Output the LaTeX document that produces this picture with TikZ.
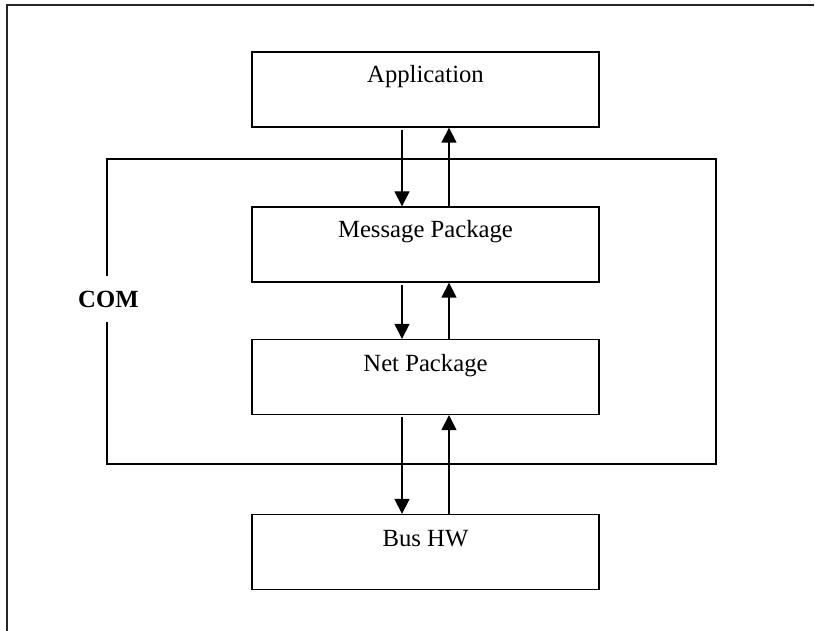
\documentclass[tikz,border=0pt]{standalone}
\usepackage{fontspec}
\setmainfont{Liberation Serif}
\usetikzlibrary{arrows.meta}
\tikzset{
  box/.style={draw=black, line width=1.3pt, minimum width=347pt, minimum height=75pt, inner sep=0pt},
  lbl/.style={anchor=base, inner sep=0pt, font=\fontsize{24.7}{30}\selectfont},
  arr/.style={line width=1.3pt, -{Triangle[length=15pt,width=15pt]}},
  frame/.style={line width=2pt, draw=black!85}
}
\begin{document}
\begin{tikzpicture}[x=1pt,y=-1pt]
\useasboundingbox (0,0) rectangle (815,631);
% outer frame (top and left edges visible)
\draw[frame] (6.8,631) -- (6.8,5.2) -- (814,5.2);
% COM box
\draw[line width=1.3pt] (107,159) rectangle (716,464);
\node[anchor=base west, fill=white, inner xsep=1pt, inner ysep=0pt, text height=32pt, text depth=14pt, font=\fontsize{24.7}{30}\selectfont\bfseries] (com) at (77,308) {COM};
% boxes
\node[box] (app) at (425.5,89.5) {};
\node[box] (msg) at (425.5,244.5) {};
\node[box] (net) at (425.5,377) {};
\node[box] (bus) at (425.5,552) {};
\node[lbl] (appt) at (425.5,83) {Application};
\node[lbl] (msgt) at (425.5,237.5) {Message Package};
\node[lbl] (nett) at (425.5,371.5) {Net Package};
\node[lbl] (bust) at (425.5,546) {Bus HW};
% arrows
\draw[arr] ([xshift=-23.5pt,yshift=-2pt]app.south) -- ([xshift=-23.5pt]msg.north);
\draw[arr] ([xshift=23.5pt]msg.north) -- ([xshift=23.5pt]app.south);
\draw[arr] ([xshift=-23.5pt,yshift=-2pt]msg.south) -- ([xshift=-23.5pt]net.north);
\draw[arr] ([xshift=23.5pt]net.north) -- ([xshift=23.5pt]msg.south);
\draw[arr] ([xshift=-23.5pt,yshift=-2pt]net.south) -- ([xshift=-23.5pt]bus.north);
\draw[arr] ([xshift=23.5pt]bus.north) -- ([xshift=23.5pt]net.south);
\end{tikzpicture}
\end{document}
